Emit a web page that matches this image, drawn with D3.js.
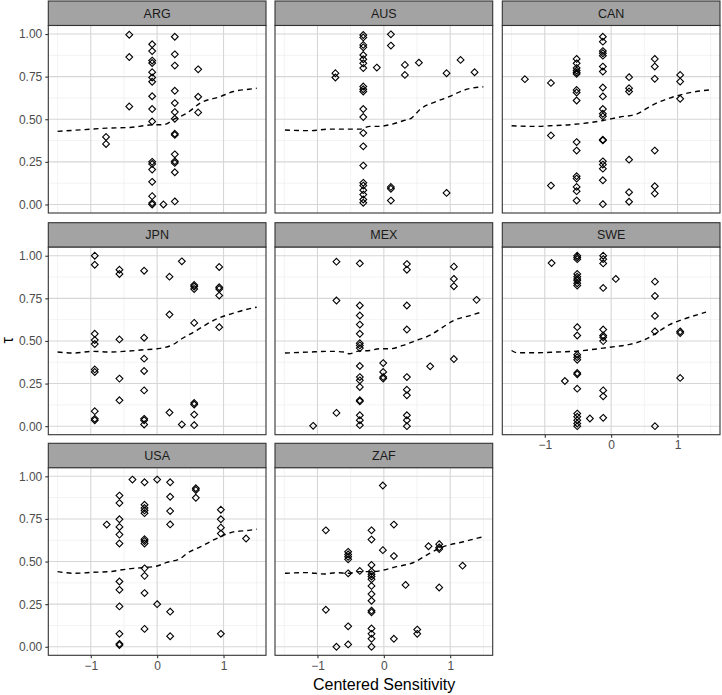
<!DOCTYPE html>
<html><head><meta charset="utf-8">
<script src="https://cdn.jsdelivr.net/npm/d3@7"></script>
<style>body{margin:0;background:#fff}svg{display:block;font-family:"Liberation Sans",Arial,Helvetica,sans-serif}</style>
</head><body><svg id="c" width="722" height="695"></svg>
<script>
// ---- data ----
const countries = ["ARG","AUS","CAN","JPN","MEX","SWE","USA","ZAF"];
const xTicks = [-1, 0, 1];
const yTicks = [0, 0.25, 0.5, 0.75, 1];
const yTickLabels = ["0.00","0.25","0.50","0.75","1.00"];
const xTitle = "Centered Sensitivity";
const yTitle = "τ";

// points grouped by x: [x, [y...]]
const ptsARG = [
  [-0.77,[0.396,0.355]],
  [-0.42,[0.996,0.865,0.575]],
  [-0.075,[0.94,0.90,0.844,0.83,0.776,0.745,0.72,0.635,0.56,0.487,0.25,0.238,0.205,0.133,0.049,0.008,0.0]],
  [0.095,[0.0]],
  [0.266,[0.984,0.881,0.815,0.667,0.595,0.542,0.503,0.415,0.408,0.294,0.253,0.244,0.189,0.018]],
  [0.618,[0.793,0.632,0.54]]
];
const ptsAUS = [
  [-0.73,[0.77,0.745]],
  [-0.31,[0.994,0.98,0.936,0.922,0.877,0.852,0.828,0.80,0.692,0.676,0.663,0.56,0.513,0.419,0.341,0.228,0.127,0.111,0.084,0.058,0.029,0.01]],
  [-0.106,[0.803]],
  [0.106,[0.998,0.932,0.103,0.092,0.023]],
  [0.317,[0.819,0.76]],
  [0.528,[0.832]],
  [0.945,[0.77,0.068]],
  [1.156,[0.848]],
  [1.367,[0.776]]
];
const ptsCAN = [
  [-1.30,[0.735]],
  [-0.907,[0.713,0.405,0.111]],
  [-0.52,[0.854,0.828,0.80,0.786,0.774,0.766,0.672,0.657,0.61,0.366,0.316,0.166,0.152,0.103,0.078,0.023]],
  [-0.125,[0.984,0.955,0.90,0.887,0.873,0.809,0.78,0.686,0.634,0.56,0.532,0.517,0.38,0.376,0.253,0.234,0.21,0.142,0.002]],
  [0.27,[0.747,0.682,0.663,0.263,0.072,0.016]],
  [0.657,[0.854,0.809,0.737,0.316,0.107,0.064]],
  [1.04,[0.76,0.721,0.62]]
];
const ptsJPN = [
  [-0.94,[1.0,0.947,0.542,0.505,0.482,0.333,0.318,0.088,0.043,0.035]],
  [-0.568,[0.918,0.893,0.509,0.279,0.152]],
  [-0.196,[0.912,0.519,0.396,0.324,0.21,0.043,0.035,0.01]],
  [0.186,[0.877,0.655,0.08]],
  [0.372,[0.967,0.01]],
  [0.558,[0.828,0.819,0.805,0.606,0.136,0.127,0.068,0.006]],
  [0.935,[0.934,0.815,0.805,0.766,0.581]]
];
const ptsMEX = [
  [-1.065,[0.002]],
  [-0.714,[0.965,0.737,0.078]],
  [-0.362,[0.955,0.708,0.649,0.596,0.542,0.487,0.474,0.458,0.353,0.288,0.269,0.23,0.152,0.146,0.064,0.035,0.006]],
  [-0.01,[0.37,0.318,0.288,0.279]],
  [0.347,[0.951,0.918,0.708,0.567,0.288,0.214,0.181,0.064,0.035,0.0]],
  [0.698,[0.351]],
  [1.055,[0.936,0.864,0.821,0.394]],
  [1.397,[0.741]]
];
const ptsSWE = [
  [-0.897,[0.957]],
  [-0.697,[0.265]],
  [-0.511,[1.0,0.99,0.98,0.893,0.877,0.864,0.854,0.838,0.825,0.581,0.532,0.419,0.405,0.39,0.312,0.304,0.22,0.074,0.055,0.035,0.016,0.0]],
  [-0.32,[0.045]],
  [-0.12,[1.0,0.98,0.955,0.811,0.567,0.532,0.522,0.499,0.21,0.175,0.049]],
  [0.07,[0.864]],
  [0.66,[0.848,0.764,0.647,0.556,0.0]],
  [1.04,[0.556,0.546,0.283]]
];
const ptsUSA = [
  [-0.76,[0.717]],
  [-0.568,[0.887,0.843,0.748,0.703,0.658,0.606,0.383,0.334,0.237,0.076,0.017,0.01]],
  [-0.372,[0.981]],
  [-0.19,[0.965,0.833,0.814,0.80,0.784,0.631,0.62,0.606,0.46,0.416,0.315,0.105]],
  [0.0,[0.981,0.25]],
  [0.196,[0.965,0.88,0.796,0.718,0.206,0.062]],
  [0.583,[0.93,0.92,0.874]],
  [0.96,[0.804,0.748,0.699,0.664,0.076]],
  [1.34,[0.635]]
];
const ptsZAF = [
  [-0.874,[0.683,0.217]],
  [-0.714,[0.0]],
  [-0.538,[0.557,0.542,0.528,0.513,0.431,0.12,0.014]],
  [-0.362,[0.445]],
  [-0.186,[0.683,0.629,0.48,0.441,0.425,0.412,0.396,0.357,0.309,0.27,0.212,0.202,0.107,0.076,0.047,0.0]],
  [-0.015,[0.946,0.567]],
  [0.151,[0.717,0.532,0.047]],
  [0.327,[0.363]],
  [0.503,[0.101,0.076]],
  [0.673,[0.59]],
  [0.834,[0.602,0.583,0.573,0.348]],
  [1.186,[0.476]]
];

// loess curves [x, y]
const loessARG = [[-1.5,0.429],[-1.11,0.439],[-0.76,0.448],[-0.41,0.452],[-0.2,0.462],[-0.075,0.468],[0.095,0.468],[0.27,0.503],[0.45,0.536],[0.65,0.595],[0.95,0.633],[1.15,0.663],[1.38,0.676],[1.5,0.682]];
const loessAUS = [[-1.49,0.437],[-1.12,0.433],[-0.81,0.442],[-0.36,0.442],[-0.21,0.458],[-0.085,0.458],[0.09,0.468],[0.29,0.491],[0.417,0.507],[0.54,0.556],[0.79,0.604],[0.995,0.634],[1.196,0.669],[1.42,0.688],[1.5,0.69]];
const loessCAN = [[-1.5,0.462],[-1.12,0.458],[-0.92,0.462],[-0.62,0.468],[-0.37,0.478],[-0.12,0.493],[0.13,0.513],[0.38,0.53],[0.63,0.585],[0.88,0.624],[1.08,0.647],[1.48,0.672]];
const loessJPN = [[-1.5,0.435],[-1.26,0.429],[-0.96,0.439],[-0.71,0.435],[-0.457,0.44],[-0.206,0.448],[0.0,0.454],[0.246,0.48],[0.37,0.513],[0.55,0.552],[0.9,0.63],[1.15,0.663],[1.38,0.688],[1.5,0.698]];
const loessMEX = [[-1.49,0.429],[-1.12,0.435],[-0.81,0.439],[-0.59,0.435],[-0.52,0.425],[-0.39,0.44],[-0.21,0.444],[-0.06,0.454],[0.09,0.454],[0.29,0.474],[0.49,0.503],[0.69,0.532],[0.89,0.581],[1.05,0.62],[1.3,0.649],[1.49,0.672]];
const loessSWE = [[-1.5,0.444],[-1.42,0.431],[-1.12,0.431],[-0.82,0.435],[-0.52,0.44],[-0.32,0.448],[-0.12,0.458],[0.08,0.468],[0.28,0.48],[0.48,0.503],[0.68,0.546],[0.88,0.596],[1.08,0.626],[1.43,0.669]];
const loessUSA = [[-1.5,0.441],[-1.24,0.431],[-0.96,0.437],[-0.71,0.441],[-0.56,0.45],[-0.36,0.46],[-0.16,0.466],[0.0,0.474],[0.146,0.495],[0.35,0.518],[0.45,0.548],[0.65,0.586],[0.95,0.645],[1.15,0.674],[1.38,0.683],[1.5,0.69]];
const loessZAF = [[-1.49,0.431],[-1.17,0.435],[-0.89,0.427],[-0.71,0.435],[-0.54,0.431],[-0.36,0.441],[-0.16,0.441],[-0.01,0.45],[0.19,0.47],[0.44,0.493],[0.69,0.548],[0.89,0.586],[1.2,0.616],[1.45,0.641],[1.5,0.645]];

const pointsBy = {ARG:ptsARG,AUS:ptsAUS,CAN:ptsCAN,JPN:ptsJPN,MEX:ptsMEX,SWE:ptsSWE,USA:ptsUSA,ZAF:ptsZAF};
const loessBy = {ARG:loessARG,AUS:loessAUS,CAN:loessCAN,JPN:loessJPN,MEX:loessMEX,SWE:loessSWE,USA:loessUSA,ZAF:loessZAF};

// ---- layout ----
const svg = d3.select("#c");
const colX = [48.3, 275, 502.3], pw = 217.7;
const rowY = [1, 222.7, 443.3], sh = 24.5, ph = 187.5;
const x = d3.scaleLinear().domain([-1.64, 1.64]).range([0, pw]);
const y = d3.scaleLinear().domain([-0.05, 1.05]).range([ph, 0]);
const xMinor = [-1.5, -0.5, 0.5, 1.5];
const yMinor = [0.125, 0.375, 0.625, 0.875];
const diamond = "M0,-3.4L3.4,0L0,3.4L-3.4,0Z";

countries.forEach((c, i) => {
  const r = Math.floor(i / 3), col = i % 3;
  const g = svg.append("g").attr("transform", `translate(${colX[col]},${rowY[r]})`);
  // strip
  g.append("rect").attr("x", 0).attr("y", 0).attr("width", pw).attr("height", sh)
    .attr("fill", "#a3a3a3").attr("stroke", "#333").attr("stroke-width", 1.1);
  g.append("text").attr("x", pw / 2).attr("y", sh / 2 + 4.4).attr("text-anchor", "middle")
    .attr("font-size", 12.5).attr("fill", "#1a1a1a").text(c);
  const p = g.append("g").attr("transform", `translate(0,${sh})`);
  p.append("rect").attr("width", pw).attr("height", ph).attr("fill", "#fff");
  // minor grid
  p.selectAll(".mx").data(xMinor).join("line").attr("x1", d => x(d)).attr("x2", d => x(d))
    .attr("y1", 0).attr("y2", ph).attr("stroke", "#ebebeb").attr("stroke-width", 0.6);
  p.selectAll(".my").data(yMinor).join("line").attr("y1", d => y(d)).attr("y2", d => y(d))
    .attr("x1", 0).attr("x2", pw).attr("stroke", "#ebebeb").attr("stroke-width", 0.6);
  // major grid
  p.selectAll(".gx").data(xTicks).join("line").attr("x1", d => x(d)).attr("x2", d => x(d))
    .attr("y1", 0).attr("y2", ph).attr("stroke", "#d6d6d6").attr("stroke-width", 1.1);
  p.selectAll(".gy").data(yTicks).join("line").attr("y1", d => y(d)).attr("y2", d => y(d))
    .attr("x1", 0).attr("x2", pw).attr("stroke", "#d6d6d6").attr("stroke-width", 1.1);
  // points
  const pts = [];
  pointsBy[c].forEach(([px, ys]) => ys.forEach(py => pts.push([px, py])));
  p.selectAll(".pt").data(pts).join("path").attr("d", diamond)
    .attr("transform", d => `translate(${x(d[0])},${y(d[1])})`)
    .attr("fill", "none").attr("stroke", "#000").attr("stroke-width", 1.1);
  // loess
  const line = d3.line().x(d => x(d[0])).y(d => y(d[1])).curve(d3.curveMonotoneX);
  p.append("path").attr("d", line(loessBy[c])).attr("fill", "none").attr("stroke", "#000")
    .attr("stroke-width", 1.4).attr("stroke-dasharray", "5,4");
  // border
  p.append("rect").attr("width", pw).attr("height", ph).attr("fill", "none")
    .attr("stroke", "#333").attr("stroke-width", 1.1);
  // axes
  if (col === 0) {
    const ya = p.append("g").call(d3.axisLeft(y).tickValues(yTicks).tickSize(3).tickPadding(3)
      .tickFormat((d, k) => yTickLabels[k]));
    ya.select(".domain").remove();
    ya.selectAll("line").attr("stroke", "#333").attr("stroke-width", 1.1);
    ya.selectAll("text").attr("font-size", 12).attr("fill", "#4d4d4d")
      .attr("font-family", "Liberation Sans, Arial, sans-serif");
  }
  const bottomPanel = (r === 2) || (r === 1 && col === 2);
  if (bottomPanel) {
    const xa = p.append("g").attr("transform", `translate(0,${ph})`)
      .call(d3.axisBottom(x).tickValues(xTicks).tickSize(3).tickPadding(3).tickFormat(d3.format("d")));
    xa.select(".domain").remove();
    xa.selectAll("line").attr("stroke", "#333").attr("stroke-width", 1.1);
    xa.selectAll("text").attr("font-size", 12).attr("fill", "#4d4d4d")
      .attr("font-family", "Liberation Sans, Arial, sans-serif");
  }
});

// titles
svg.append("text").attr("x", (colX[0] + colX[2] + pw) / 2).attr("y", 690).attr("text-anchor", "middle")
  .attr("font-size", 16).attr("fill", "#000").text(xTitle);
const yc = (rowY[0] + sh + rowY[2] + sh + ph) / 2;
svg.append("text").attr("transform", `translate(13,${yc}) rotate(-90)`).attr("text-anchor", "middle")
  .attr("font-size", 16).attr("fill", "#000").text(yTitle);
</script></body></html>
